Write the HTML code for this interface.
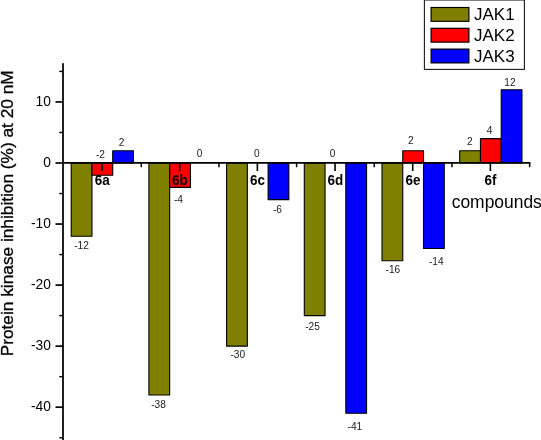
<!DOCTYPE html>
<html><head><meta charset="utf-8"><title>chart</title>
<style>html,body{margin:0;padding:0;background:#fff;overflow:hidden}svg{display:block}</style></head>
<body>
<svg width="541" height="440" viewBox="0 0 541 440" font-family="'Liberation Sans', Arial, sans-serif" fill="#000">
<rect width="541" height="440" fill="#fff"/>
<rect x="71.21" y="163.00" width="20.75" height="73.26" fill="#808000" stroke="#000" stroke-width="1.1" stroke-linejoin="round"/>
<rect x="91.96" y="163.00" width="20.75" height="12.21" fill="#ff0000" stroke="#000" stroke-width="1.1" stroke-linejoin="round"/>
<rect x="112.71" y="150.79" width="20.75" height="12.21" fill="#0000ff" stroke="#000" stroke-width="1.1" stroke-linejoin="round"/>
<rect x="148.91" y="163.00" width="20.75" height="231.99" fill="#808000" stroke="#000" stroke-width="1.1" stroke-linejoin="round"/>
<rect x="169.66" y="163.00" width="20.75" height="24.42" fill="#ff0000" stroke="#000" stroke-width="1.1" stroke-linejoin="round"/>
<rect x="226.61" y="163.00" width="20.75" height="183.15" fill="#808000" stroke="#000" stroke-width="1.1" stroke-linejoin="round"/>
<rect x="268.11" y="163.00" width="20.75" height="36.63" fill="#0000ff" stroke="#000" stroke-width="1.1" stroke-linejoin="round"/>
<rect x="304.31" y="163.00" width="20.75" height="152.62" fill="#808000" stroke="#000" stroke-width="1.1" stroke-linejoin="round"/>
<rect x="345.81" y="163.00" width="20.75" height="250.31" fill="#0000ff" stroke="#000" stroke-width="1.1" stroke-linejoin="round"/>
<rect x="382.01" y="163.00" width="20.75" height="97.68" fill="#808000" stroke="#000" stroke-width="1.1" stroke-linejoin="round"/>
<rect x="402.76" y="150.79" width="20.75" height="12.21" fill="#ff0000" stroke="#000" stroke-width="1.1" stroke-linejoin="round"/>
<rect x="423.51" y="163.00" width="20.75" height="85.47" fill="#0000ff" stroke="#000" stroke-width="1.1" stroke-linejoin="round"/>
<rect x="459.71" y="150.79" width="20.75" height="12.21" fill="#808000" stroke="#000" stroke-width="1.1" stroke-linejoin="round"/>
<rect x="480.46" y="138.58" width="20.75" height="24.42" fill="#ff0000" stroke="#000" stroke-width="1.1" stroke-linejoin="round"/>
<rect x="501.21" y="89.74" width="20.75" height="73.26" fill="#0000ff" stroke="#000" stroke-width="1.1" stroke-linejoin="round"/>
<text id="v0_0" x="81.57" y="248.60" font-size="10.15" text-anchor="middle" fill="#1a1a1a">-12</text>
<text id="v0_1" x="100.50" y="158.00" font-size="10.15" text-anchor="middle" fill="#1a1a1a">-2</text>
<text id="v0_2" x="121.55" y="145.50" font-size="10.15" text-anchor="middle" fill="#1a1a1a">2</text>
<text id="v1_0" x="158.55" y="407.80" font-size="10.15" text-anchor="middle" fill="#1a1a1a">-38</text>
<text id="v1_1" x="178.45" y="203.00" font-size="10.15" text-anchor="middle" fill="#1a1a1a">-4</text>
<text id="v1_2" x="199.55" y="156.70" font-size="10.15" text-anchor="middle" fill="#1a1a1a">0</text>
<text id="v2_0" x="237.80" y="358.40" font-size="10.15" text-anchor="middle" fill="#1a1a1a">-30</text>
<text id="v2_1" x="256.80" y="157.20" font-size="10.15" text-anchor="middle" fill="#1a1a1a">0</text>
<text id="v2_2" x="277.45" y="212.50" font-size="10.15" text-anchor="middle" fill="#1a1a1a">-6</text>
<text id="v3_0" x="312.45" y="330.00" font-size="10.15" text-anchor="middle" fill="#1a1a1a">-25</text>
<text id="v3_1" x="332.55" y="156.70" font-size="10.15" text-anchor="middle" fill="#1a1a1a">0</text>
<text id="v3_2" x="354.85" y="430.00" font-size="10.15" text-anchor="middle" fill="#1a1a1a">-41</text>
<text id="v4_0" x="392.90" y="273.25" font-size="10.15" text-anchor="middle" fill="#1a1a1a">-16</text>
<text id="v4_1" x="410.80" y="143.60" font-size="10.15" text-anchor="middle" fill="#1a1a1a">2</text>
<text id="v4_2" x="436.30" y="265.30" font-size="10.15" text-anchor="middle" fill="#1a1a1a">-14</text>
<text id="v5_0" x="469.85" y="144.80" font-size="10.15" text-anchor="middle" fill="#1a1a1a">2</text>
<text id="v5_1" x="489.45" y="133.90" font-size="10.15" text-anchor="middle" fill="#1a1a1a">4</text>
<text id="v5_2" x="509.90" y="85.80" font-size="10.15" text-anchor="middle" fill="#1a1a1a">12</text>
<line x1="63.0" y1="63.2" x2="63.0" y2="440" stroke="#000" stroke-width="1.75"/>
<line x1="62.0" y1="162.95" x2="530.4" y2="162.95" stroke="#000" stroke-width="1.8"/>
<line x1="59.3" y1="437.73" x2="63.0" y2="437.73" stroke="#000" stroke-width="1.4"/>
<line x1="55.5" y1="407.20" x2="63.0" y2="407.20" stroke="#000" stroke-width="1.7"/>
<text x="50.9" y="410.95" font-size="13.8" text-anchor="end">-40</text>
<line x1="59.3" y1="376.68" x2="63.0" y2="376.68" stroke="#000" stroke-width="1.4"/>
<line x1="55.5" y1="346.15" x2="63.0" y2="346.15" stroke="#000" stroke-width="1.7"/>
<text x="50.9" y="349.90" font-size="13.8" text-anchor="end">-30</text>
<line x1="59.3" y1="315.62" x2="63.0" y2="315.62" stroke="#000" stroke-width="1.4"/>
<line x1="55.5" y1="285.10" x2="63.0" y2="285.10" stroke="#000" stroke-width="1.7"/>
<text x="50.9" y="288.85" font-size="13.8" text-anchor="end">-20</text>
<line x1="59.3" y1="254.57" x2="63.0" y2="254.57" stroke="#000" stroke-width="1.4"/>
<line x1="55.5" y1="224.05" x2="63.0" y2="224.05" stroke="#000" stroke-width="1.7"/>
<text x="50.9" y="227.80" font-size="13.8" text-anchor="end">-10</text>
<line x1="59.3" y1="193.53" x2="63.0" y2="193.53" stroke="#000" stroke-width="1.4"/>
<line x1="55.5" y1="163.00" x2="63.0" y2="163.00" stroke="#000" stroke-width="1.7"/>
<text x="50.9" y="166.75" font-size="13.8" text-anchor="end">0</text>
<line x1="59.3" y1="132.47" x2="63.0" y2="132.47" stroke="#000" stroke-width="1.4"/>
<line x1="55.5" y1="101.95" x2="63.0" y2="101.95" stroke="#000" stroke-width="1.7"/>
<text x="50.9" y="105.70" font-size="13.8" text-anchor="end">10</text>
<line x1="59.3" y1="71.42" x2="63.0" y2="71.42" stroke="#000" stroke-width="1.4"/>
<line x1="102.04" y1="163.0" x2="102.04" y2="171.0" stroke="#000" stroke-width="1.6"/>
<line x1="141.27" y1="163.0" x2="141.27" y2="167.2" stroke="#000" stroke-width="1.5"/>
<text transform="translate(102.24,184.6) scale(0.96,1)" font-size="14" font-weight="bold" text-anchor="middle">6a</text>
<line x1="179.70" y1="163.0" x2="179.70" y2="171.0" stroke="#000" stroke-width="1.6"/>
<line x1="218.94" y1="163.0" x2="218.94" y2="167.2" stroke="#000" stroke-width="1.5"/>
<text transform="translate(179.90,184.6) scale(0.96,1)" font-size="14" font-weight="bold" text-anchor="middle">6b</text>
<line x1="257.38" y1="163.0" x2="257.38" y2="171.0" stroke="#000" stroke-width="1.6"/>
<line x1="296.61" y1="163.0" x2="296.61" y2="167.2" stroke="#000" stroke-width="1.5"/>
<text transform="translate(257.57,184.6) scale(0.96,1)" font-size="14" font-weight="bold" text-anchor="middle">6c</text>
<line x1="335.05" y1="163.0" x2="335.05" y2="171.0" stroke="#000" stroke-width="1.6"/>
<line x1="374.28" y1="163.0" x2="374.28" y2="167.2" stroke="#000" stroke-width="1.5"/>
<text transform="translate(335.25,184.6) scale(0.96,1)" font-size="14" font-weight="bold" text-anchor="middle">6d</text>
<line x1="412.71" y1="163.0" x2="412.71" y2="171.0" stroke="#000" stroke-width="1.6"/>
<line x1="451.95" y1="163.0" x2="451.95" y2="167.2" stroke="#000" stroke-width="1.5"/>
<text transform="translate(412.91,184.6) scale(0.96,1)" font-size="14" font-weight="bold" text-anchor="middle">6e</text>
<line x1="490.38" y1="163.0" x2="490.38" y2="171.0" stroke="#000" stroke-width="1.6"/>
<line x1="529.62" y1="163.0" x2="529.62" y2="167.2" stroke="#000" stroke-width="1.5"/>
<text transform="translate(490.58,184.6) scale(0.96,1)" font-size="14" font-weight="bold" text-anchor="middle">6f</text>
<text x="451.7" y="208" font-size="17.45">compounds</text>
<text transform="translate(13.4,356.3) rotate(-90)" font-size="17.28" stroke="#000" stroke-width="0.3">Protein kinase inhibition (%) at 20 nM</text>
<rect x="424.4" y="0" width="100" height="69.4" fill="#fff" stroke="#1a1a1a" stroke-width="1.1"/>
<rect x="431.1" y="7.50" width="37.8" height="13.8" fill="#808000" stroke="#000" stroke-width="1.2"/>
<text x="474" y="19.85" font-size="17">JAK1</text>
<rect x="431.1" y="28.30" width="37.8" height="13.8" fill="#ff0000" stroke="#000" stroke-width="1.2"/>
<text x="474" y="40.75" font-size="17">JAK2</text>
<rect x="431.1" y="49.10" width="37.8" height="13.8" fill="#0000ff" stroke="#000" stroke-width="1.2"/>
<text x="474" y="61.65" font-size="17">JAK3</text>
</svg>
</body></html>
